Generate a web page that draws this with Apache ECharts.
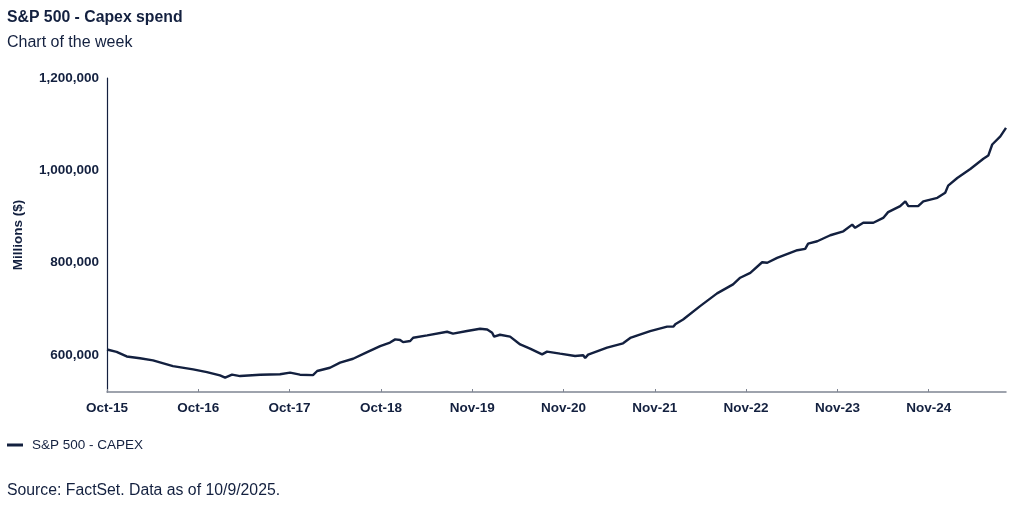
<!DOCTYPE html>
<html>
<head>
<meta charset="utf-8">
<script src="https://cdn.jsdelivr.net/npm/echarts@6/dist/echarts.min.js"></script>
<style>
html,body{margin:0;padding:0;background:#fff;}
#chart{width:1024px;height:512px;}
</style>
</head>
<body>
<div id="chart"></div>
<script>
var dates = [
'2015-10-09','2015-11-17','2015-12-28','2016-02-20','2016-04-13','2016-07-03','2016-09-23','2016-11-18',
'2017-01-10','2017-01-31','2017-02-28','2017-04-02','2017-06-22','2017-09-11','2017-10-22','2017-12-01',
'2018-01-23','2018-02-09','2018-04-02','2018-05-13','2018-07-05','2018-08-31','2018-10-23','2018-12-02',
'2018-12-23','2019-01-12','2019-01-24','2019-02-22','2019-03-06','2019-05-02','2019-07-22','2019-08-15',
'2019-10-11','2019-12-03','2020-01-01','2020-01-21','2020-01-29','2020-02-22','2020-04-03','2020-05-14',
'2020-06-23','2020-08-11','2020-08-31','2020-10-23','2020-12-23','2021-01-25','2021-02-02','2021-02-14',
'2021-05-02','2021-07-06','2021-08-04','2021-10-24','2022-01-01','2022-01-26','2022-02-03','2022-03-07',
'2022-05-15','2022-07-23','2022-09-26','2022-10-25','2022-12-05','2023-01-22','2023-02-12','2023-03-24',
'2023-05-16','2023-06-14','2023-07-16','2023-07-28','2023-09-03','2023-10-26','2023-12-18','2024-01-23',
'2024-02-04','2024-03-08','2024-04-18','2024-05-28','2024-06-17','2024-08-05','2024-08-26','2024-09-07',
'2024-10-17','2024-11-07','2025-01-03','2025-02-04','2025-02-16','2025-03-25','2025-05-17','2025-07-09',
'2025-07-29','2025-08-14','2025-09-16','2025-10-09'
];
var capex = [
612000,607000,597000,593000,588500,576000,569000,563000,
556000,551000,557500,554500,557500,558500,562000,557500,
556500,565500,572500,583500,592000,606500,619500,627000,
634000,632500,628000,630500,637500,642500,650500,646500,
652000,657000,655500,648500,640000,644000,640000,623000,
614000,601500,607500,603000,598000,599500,593500,601000,
616000,625500,637000,652000,661500,661500,666500,677000,
706000,733500,753000,767500,778000,801000,800000,810500,
821500,827000,830000,841500,846500,859500,868000,882500,
875500,886500,886500,897000,909500,922500,933000,922500,
922500,933000,940500,951500,967000,983500,1003000,1025000,
1032000,1056000,1073500,1092000
];
var tickDates = ['2015-10-09','2016-10-14','2017-10-20','2018-10-26','2019-11-01','2020-11-06','2021-11-12','2022-11-18','2023-11-24','2024-11-29'];
var tickLabels = ['Oct-15','Oct-16','Oct-17','Oct-18','Nov-19','Nov-20','Nov-21','Nov-22','Nov-23','Nov-24'];
var yTicks = [600000, 800000, 1000000, 1200000];

function toTs(s){var p=s.split('-');return Date.UTC(+p[0],+p[1]-1,+p[2]);}
var t0 = toTs(dates[0]);
function dayOf(s){return Math.round((toTs(s)-t0)/86400000);}
var seriesData = dates.map(function(d,i){return [dayOf(d), capex[i]];});
var tickDays = tickDates.map(dayOf);

var navy = '#13203f';
var font = 'Liberation Sans, Arial, sans-serif';
var chart = echarts.init(document.getElementById('chart'), null, {renderer:'canvas'});
chart.setOption({
  animation:false,
  backgroundColor:'#ffffff',
  title:[
    {text:'S&P 500 - Capex spend', left:2, top:5, textStyle:{fontFamily:font,fontSize:15.8,fontWeight:'bold',color:navy}},
    {text:'Chart of the week', left:2, top:30, textStyle:{fontFamily:font,fontSize:16,fontWeight:'normal',color:navy}},
    {text:'Source: FactSet. Data as of 10/9/2025.', left:2, top:478, textStyle:{fontFamily:font,fontSize:15.8,fontWeight:'normal',color:navy}}
  ],
  legend:{
    left:2, top:433, icon:'rect', itemWidth:16, itemHeight:3, itemGap:10,
    textStyle:{fontFamily:font,fontSize:13.5,color:navy,padding:[0,0,0,4]},
    data:['S&P 500 - CAPEX']
  },
  grid:{left:107, right:18, top:78, bottom:120, containLabel:false},
  xAxis:{
    type:'value',
    min:0, max:dayOf(dates[dates.length-1]),
    axisLine:{show:true, lineStyle:{color:'#7f8593', width:1.5}},
    axisTick:{show:true, inside:true, length:3, customValues:tickDays, lineStyle:{color:'#7f8593'}},
    splitLine:{show:false},
    axisLabel:{
      customValues:tickDays,
      fontFamily:font, fontSize:13.5, fontWeight:'bold', color:navy, margin:9,
      formatter:function(v){var i=tickDays.indexOf(v);return i>=0?tickLabels[i]:'';}
    }
  },
  yAxis:{
    type:'value', min:520000, max:1200000,
    name:'Millions ($)', nameLocation:'middle', nameGap:82, nameRotate:90,
    nameTextStyle:{fontFamily:font,fontSize:13.5,fontWeight:'bold',color:navy},
    axisLine:{show:true, lineStyle:{color:navy, width:1.2}},
    axisTick:{show:false},
    splitLine:{show:false},
    axisLabel:{
      customValues:yTicks,
      fontFamily:font, fontSize:13.5, fontWeight:'bold', color:navy, margin:8,
      formatter:function(v){return v.toLocaleString('en-US');}
    }
  },
  series:[{
    name:'S&P 500 - CAPEX', type:'line', data:seriesData,
    showSymbol:false, symbol:'none',
    lineStyle:{color:navy, width:2.4},
    itemStyle:{color:navy}
  }]
});
</script>
</body>
</html>
